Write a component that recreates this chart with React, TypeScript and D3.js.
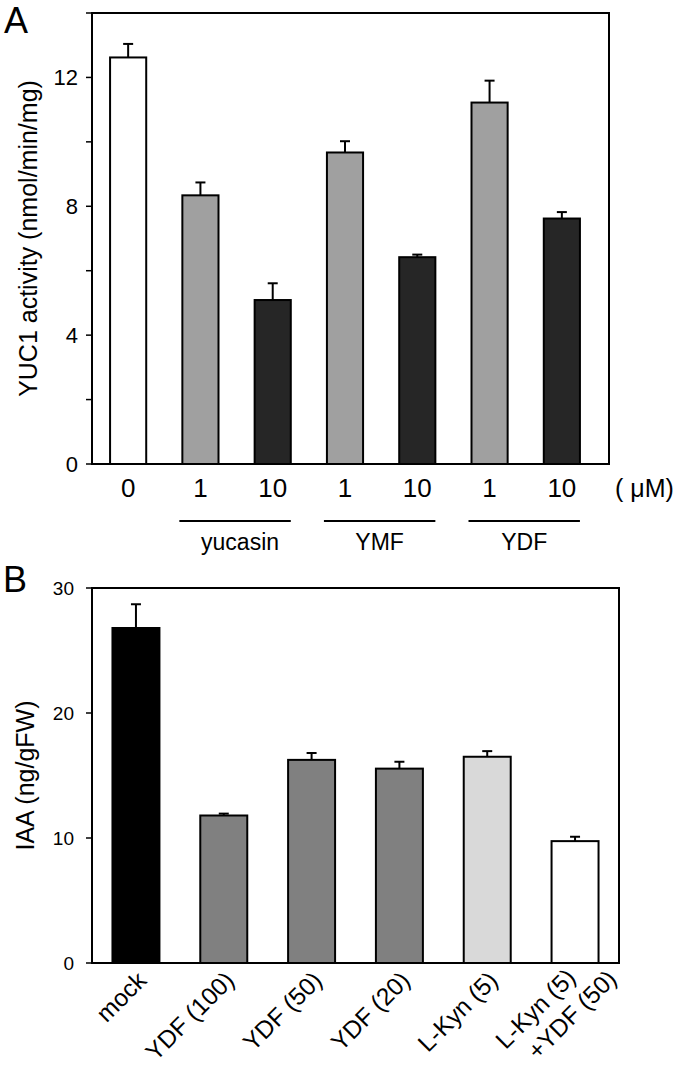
import React from "react";
import * as d3 from "d3";

// Panel A
const aConc = ["0", "1", "10", "1", "10", "1", "10"];
const aValues = [12.62, 8.34, 5.09, 9.67, 6.42, 11.22, 7.62];
const aErrors = [0.42, 0.4, 0.52, 0.35, 0.08, 0.68, 0.2];
const aFills = ["#ffffff", "#a0a0a0", "#262626", "#a0a0a0", "#262626", "#a0a0a0", "#262626"];
const aGroups = [
  { label: "yucasin", from: 1, to: 2 },
  { label: "YMF", from: 3, to: 4 },
  { label: "YDF", from: 5, to: 6 },
];
const aTicks = [0, 2, 4, 6, 8, 10, 12, 14];
const aTickLabels = [0, 4, 8, 12];

// Panel B
const bCats = ["mock", "YDF (100)", "YDF (50)", "YDF (20)", "L-Kyn (5)", "L-Kyn (5)|+YDF (50)"];
const bValues = [26.8, 11.8, 16.25, 15.55, 16.5, 9.75];
const bErrors = [1.9, 0.15, 0.55, 0.55, 0.45, 0.35];
const bFills = ["#000000", "#808080", "#808080", "#808080", "#d9d9d9", "#ffffff"];
const bTicks = [0, 10, 20, 30];

const font = "Arial, 'Liberation Sans', Helvetica, sans-serif";

export default function App() {
  const width = 685;
  const height = 1068;

  // A scales
  const ax = d3.scaleBand<number>().domain(d3.range(aValues.length)).range([92, 598]).paddingInner(0.5).paddingOuter(0.25);
  const ay = d3.scaleLinear().domain([0, 14]).range([464, 13]);

  // B scales
  const bx = d3.scaleBand<number>().domain(d3.range(bValues.length)).range([92, 619]).paddingInner(0.465).paddingOuter(0.233);
  const by = d3.scaleLinear().domain([0, 30]).range([963, 588]);

  return (
    <svg width={width} height={height} style={{ position: "absolute", left: 0, top: 0, background: "#fff" }} fontFamily={font}>
      {/* ---------- A ---------- */}
      <text x={4} y={33} fontSize={36}>A</text>
      <text transform={`translate(37,${(ay(0) + ay(14)) / 2}) rotate(-90)`} textAnchor="middle" fontSize={25}>
        YUC1 activity (nmol/min/mg)
      </text>
      {aTicks.map((t) => (
        <line key={"at" + t} x1={86} x2={92} y1={ay(t)} y2={ay(t)} stroke="#000" strokeWidth={1.5} />
      ))}
      {aTickLabels.map((t) => (
        <text key={"al" + t} x={78} y={ay(t) + 8} textAnchor="end" fontSize={22}>{t}</text>
      ))}
      {aValues.map((v, i) => {
        const cx = ax(i)! + ax.bandwidth() / 2;
        return (
          <g key={"ab" + i}>
            <line x1={cx} x2={cx} y1={ay(v)} y2={ay(v + aErrors[i])} stroke="#000" strokeWidth={2} />
            <line x1={cx - 5} x2={cx + 5} y1={ay(v + aErrors[i])} y2={ay(v + aErrors[i])} stroke="#000" strokeWidth={2} />
            <rect x={ax(i)} y={ay(v)} width={ax.bandwidth()} height={ay(0) - ay(v)} fill={aFills[i]} stroke="#000" strokeWidth={2} />
            <text x={cx} y={497} textAnchor="middle" fontSize={26}>{aConc[i]}</text>
          </g>
        );
      })}
      <rect x={92} y={13} width={517} height={ay(0) - 13} fill="none" stroke="#000" strokeWidth={2} />
      <text x={615} y={497} fontSize={25}>( μM)</text>
      {aGroups.map((g) => {
        const x1 = ax(g.from)! - 3;
        const x2 = ax(g.to)! + ax.bandwidth();
        return (
          <g key={g.label}>
            <line x1={x1} x2={x2} y1={521} y2={521} stroke="#000" strokeWidth={2} />
            <text x={(x1 + x2) / 2 + (g.label === "yucasin" ? 5 : 0)} y={550} textAnchor="middle" fontSize={23}>{g.label}</text>
          </g>
        );
      })}

      {/* ---------- B ---------- */}
      <text x={3} y={592} fontSize={36}>B</text>
      <text transform={`translate(34,${(by(0) + by(30)) / 2}) rotate(-90)`} textAnchor="middle" fontSize={25}>
        IAA (ng/gFW)
      </text>
      {bTicks.map((t) => (
        <g key={"bt" + t}>
          <line x1={86} x2={92} y1={by(t)} y2={by(t)} stroke="#000" strokeWidth={1.5} />
          <text x={74} y={by(t) + 7} textAnchor="end" fontSize={19}>{t}</text>
        </g>
      ))}
      {bValues.map((v, i) => {
        const cx = bx(i)! + bx.bandwidth() / 2;
        const lines = bCats[i].split("|");
        const two = lines.length > 1;
        return (
          <g key={"bb" + i}>
            <line x1={cx} x2={cx} y1={by(v)} y2={by(v + bErrors[i])} stroke="#000" strokeWidth={2} />
            <line x1={cx - 5} x2={cx + 5} y1={by(v + bErrors[i])} y2={by(v + bErrors[i])} stroke="#000" strokeWidth={2} />
            <rect x={bx(i)} y={by(v)} width={bx.bandwidth()} height={by(0) - by(v)} fill={bFills[i]} stroke="#000" strokeWidth={2} />
            <text transform={`translate(${cx + (two ? 2 : 12)},${two ? 979 : 982}) rotate(-45)`} textAnchor="end" fontSize={24.5}>
              {lines.map((l, j) => (
                <tspan key={j} x={j === 0 ? 0 : 28} dy={j === 0 ? 0 : 30}>{l}</tspan>
              ))}
            </text>
          </g>
        );
      })}
      <rect x={92} y={by(30)} width={527} height={by(0) - by(30)} fill="none" stroke="#000" strokeWidth={2} />
    </svg>
  );
}
